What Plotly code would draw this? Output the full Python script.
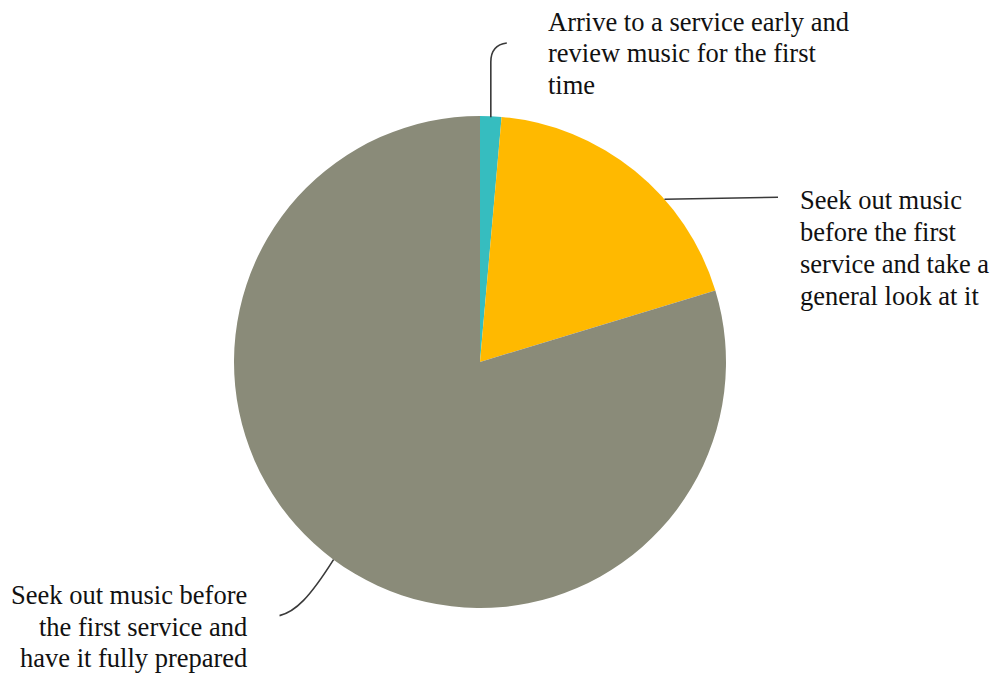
import math
import plotly.graph_objects as go

# Survey answers (share of respondents, %)
categories = [
    "Arrive to a service early and<br>review music for the first<br>time",
    "Seek out music<br>before the first<br>service and take a<br>general look at it",
    "Seek out music before<br>the first service and<br>have it fully prepared",
]
shares = [1.4, 18.9, 79.7]
colors = ["#36BDBF", "#FFB900", "#8A8B79"]

W, H = 992, 673
CX, CY, R = 480, 362, 246  # pie centre and radius in pixels


def px(x):
    return x / W


def py(y):
    return 1 - y / H


fig = go.Figure(
    go.Pie(
        values=shares,
        labels=[c.replace("<br>", " ") for c in categories],
        marker=dict(colors=colors, line=dict(width=0)),
        sort=False,
        direction="clockwise",
        rotation=0,
        textinfo="none",
        hoverinfo="label+percent",
        showlegend=False,
        domain=dict(x=[px(CX - R), px(CX + R)], y=[py(CY + R), py(CY - R)]),
    )
)

# slice boundaries in degrees, clockwise from 12 o'clock
total = sum(shares)
bounds = [0.0]
for v in shares:
    bounds.append(bounds[-1] + 360 * v / total)


def edge(i, frac):
    a = math.radians(bounds[i] + frac * (bounds[i + 1] - bounds[i]))
    return CX + R * math.sin(a), CY - R * math.cos(a)


line_style = dict(color="#3a3a3a", width=1.6)

# leader for the small teal slice: up, then curl to the right
x0, y0 = edge(0, 0.5)
fig.add_shape(
    type="path", xref="paper", yref="paper", line=line_style,
    path=f"M {px(x0)},{py(y0 + 1)} L {px(x0)},{py(62)} "
         f"Q {px(x0)},{py(45)} {px(x0 + 16)},{py(43)}",
)

# leader for the yellow slice: horizontal to the right
x1, y1 = edge(1, 0.64)
fig.add_shape(
    type="path", xref="paper", yref="paper", line=line_style,
    path=f"M {px(x1)},{py(y1)} L {px(778)},{py(y1 - 2)}",
)

# leader for the grey slice: down-left with a small hook
x2, y2 = edge(2, 0.5)
fig.add_shape(
    type="path", xref="paper", yref="paper", line=line_style,
    path=f"M {px(x2)},{py(y2)} C {px(x2 - 24)},{py(y2 + 38)} "
         f"{px(x2 - 38)},{py(y2 + 52)} {px(x2 - 54)},{py(y2 + 56)}",
)

font = dict(family="Liberation Serif", size=26.5, color="#111111")

# label blocks: (x, first-line centre y, line step, anchor)
label_pos = [
    (546, 22, 31.5, "left"),
    (798, 200, 32.0, "left"),
    (249, 595, 31.5, "right"),
]

for text, (lx, ly, step, side) in zip(categories, label_pos):
    for k, line in enumerate(text.split("<br>")):
        fig.add_annotation(
            x=px(lx), y=py(ly + k * step), xref="paper", yref="paper",
            xanchor=side, yanchor="middle", text=line, showarrow=False,
            align=side, font=font,
        )

fig.update_layout(
    width=W, height=H,
    margin=dict(l=0, r=0, t=0, b=0),
    paper_bgcolor="white", plot_bgcolor="white",
)

fig.write_html("out.html")
